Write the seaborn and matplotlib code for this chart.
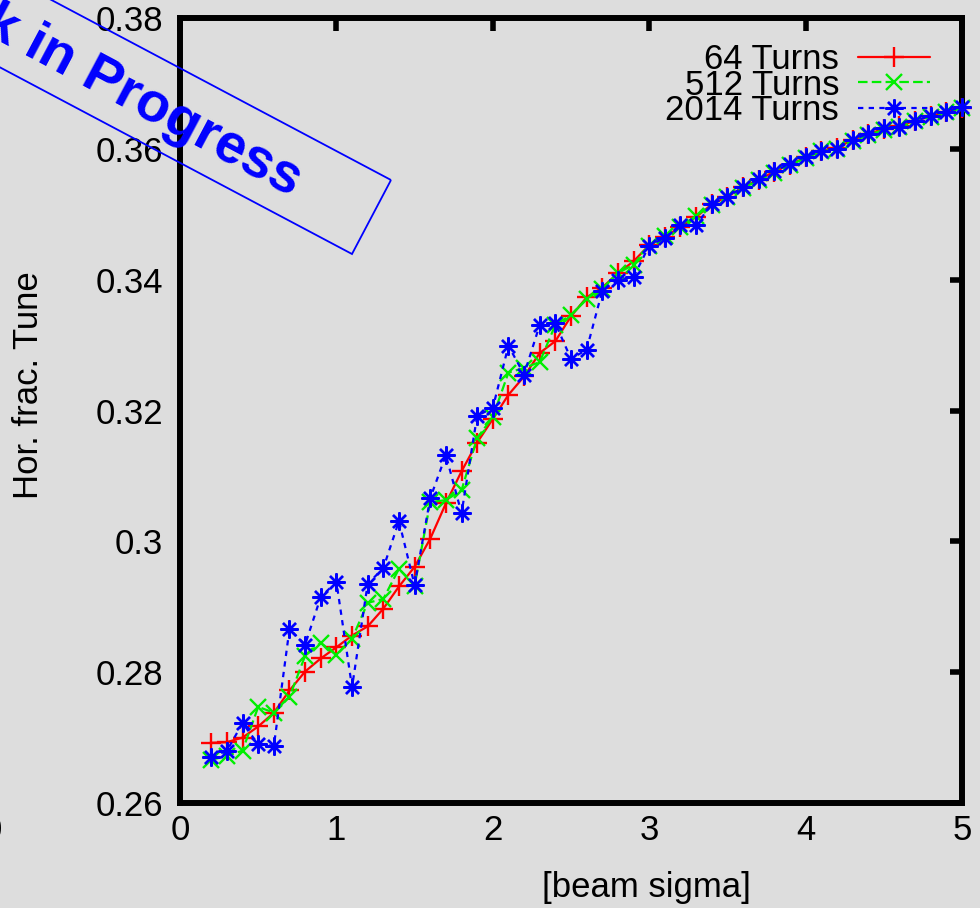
import matplotlib
matplotlib.use("Agg")
import matplotlib.pyplot as plt
import seaborn as sns
import pandas as pd
from matplotlib.patches import Polygon

# ---------------- data ----------------
beam_sigma = [0.2, 0.3, 0.4, 0.5, 0.6, 0.7, 0.8, 0.9, 1.0, 1.1,
              1.2, 1.3, 1.4, 1.5, 1.6, 1.7, 1.8, 1.9, 2.0, 2.1,
              2.2, 2.3, 2.4, 2.5, 2.6, 2.7, 2.8, 2.9, 3.0, 3.1,
              3.2, 3.3, 3.4, 3.5, 3.6, 3.7, 3.8, 3.9, 4.0, 4.1,
              4.2, 4.3, 4.4, 4.5, 4.6, 4.7, 4.8, 4.9, 5.0]

tune_64 = [0.2692, 0.2693, 0.2700, 0.2717, 0.2738, 0.2772, 0.2801, 0.2821, 0.2838, 0.2856,
           0.2870, 0.2897, 0.2931, 0.2961, 0.3004, 0.3058, 0.3107, 0.3151, 0.3187, 0.3224,
           0.3252, 0.3288, 0.3306, 0.3344, 0.3373, 0.3388, 0.3410, 0.3428, 0.3453, 0.3465,
           0.3481, 0.3496, 0.3515, 0.3527, 0.3541, 0.3553, 0.3565, 0.3576, 0.3587, 0.3597,
           0.3601, 0.3614, 0.3622, 0.3631, 0.3635, 0.3643, 0.3650, 0.3657, 0.3663]

tune_512 = [0.2666, 0.2672, 0.2680, 0.2747, 0.2738, 0.2762, 0.2825, 0.2845, 0.2826, 0.2851,
            0.2906, 0.2912, 0.2958, 0.2932, 0.3060, 0.3063, 0.3078, 0.3158, 0.3190, 0.3258,
            0.3265, 0.3274, 0.3331, 0.3346, 0.3371, 0.3386, 0.3410, 0.3423, 0.3452, 0.3467,
            0.3480, 0.3498, 0.3514, 0.3526, 0.3540, 0.3552, 0.3563, 0.3575, 0.3586, 0.3596,
            0.3600, 0.3612, 0.3621, 0.3629, 0.3633, 0.3642, 0.3649, 0.3656, 0.3662]

tune_2014 = [0.2670, 0.2680, 0.2722, 0.2690, 0.2687, 0.2866, 0.2842, 0.2915, 0.2938, 0.2777,
             0.2935, 0.2959, 0.3031, 0.2933, 0.3066, 0.3132, 0.3043, 0.3192, 0.3204, 0.3299,
             0.3255, 0.3331, 0.3333, 0.3279, 0.3293, 0.3383, 0.3400, 0.3404, 0.3452, 0.3464,
             0.3484, 0.3484, 0.3515, 0.3527, 0.3541, 0.3554, 0.3566, 0.3577, 0.3588, 0.3597,
             0.3599, 0.3614, 0.3623, 0.3632, 0.3634, 0.3643, 0.3650, 0.3657, 0.3664]

series_names = ["64 Turns", "512 Turns", "2014 Turns"]
x_ticks = [0, 1, 2, 3, 4, 5]
x_tick_labels = ["0", "1", "2", "3", "4", "5"]
y_ticks = [0.26, 0.28, 0.30, 0.32, 0.34, 0.36, 0.38]
y_tick_labels = ["0.26", "0.28", "0.3", "0.32", "0.34", "0.36", "0.38"]

# ---------------- style ----------------
sns.set_theme(style="white")
plt.rcParams["font.family"] = ["Liberation Sans", "DejaVu Sans"]
plt.rcParams["text.color"] = "black"
BG = "#dddddd"
FS = 25

fig = plt.figure(figsize=(9.8, 9.08), dpi=100, facecolor=BG)
W, H = 980.0, 908.0
ax = fig.add_axes([180 / W, 1 - 803 / H, (962 - 180) / W, (803 - 18) / H])
ax.set_facecolor(BG)

styles = {
    "64 Turns": dict(color="#ff0000", marker="+", ms=15, ls="-"),
    "512 Turns": dict(color="#00ee00", marker="x", ms=11.5, ls=(0, (4.3, 1.9))),
    "2014 Turns": dict(color="#0000ff", marker=(8, 2, 0), ms=13, ls=(0, (2.4, 2.4))),
}
series_vals = {"64 Turns": tune_64, "512 Turns": tune_512, "2014 Turns": tune_2014}

for name in series_names:
    df = pd.DataFrame({"sigma": beam_sigma, "tune": series_vals[name]})
    st = styles[name]
    sns.lineplot(data=df, x="sigma", y="tune", ax=ax, estimator=None, sort=False,
                 color=st["color"], marker=st["marker"], markersize=st["ms"],
                 markeredgecolor=st["color"], markeredgewidth=1.7,
                 linestyle=st["ls"], linewidth=1.6, label=name, clip_on=False, zorder=3)

ax.set_xlim(0, 5)
ax.set_ylim(0.26, 0.38)
ax.set_xticks(x_ticks)
ax.set_xticklabels(x_tick_labels)
ax.set_yticks(y_ticks)
ax.set_yticklabels(y_tick_labels)
ax.set_xlabel("")
ax.set_ylabel("")
ax.tick_params(direction="in", length=9, width=4, top=True, right=True,
               labelsize=FS, colors="black", labelcolor="black")
ax.tick_params(axis="y", pad=12)
ax.tick_params(axis="x", pad=8)
for sp in ax.spines.values():
    sp.set_visible(True)
    sp.set_linewidth(4.3)
    sp.set_color("black")
    sp.set_zorder(2.5)

# legend
handles, labels = ax.get_legend_handles_labels()
leg = ax.legend(handles, labels, loc="center right",
                bbox_to_anchor=(930 / W, 1 - 85 / H), bbox_transform=fig.transFigure,
                frameon=False, markerfirst=False, numpoints=1, fontsize=FS,
                handlelength=2.07, handletextpad=0.55, labelspacing=-0.21,
                borderpad=0, borderaxespad=0, labelcolor="black")
leg.set_zorder(5)

# axis labels (placed as in the reference)
fig.text(28 / W, 1 - 385 / H, "Hor. frac. Tune", rotation=90, ha="center", va="center",
         fontsize=FS, color="black")
fig.text(646 / W, 1 - 888 / H, "[beam sigma]", ha="center", va="center",
         fontsize=FS, color="black")
# clipped tick label from a neighbouring panel at the far left
fig.text(-8 / W, 1 - 830 / H, "0", ha="center", va="center", fontsize=FS, color="black")

# "Work in Progress" stamp
corners_px = [(391, 180), (352, 254), (-178, -27), (-139, -101)]
poly = Polygon([(x / W, 1 - y / H) for x, y in corners_px], closed=True, fill=False,
               edgecolor="#0000ff", linewidth=1.3, transform=fig.transFigure, zorder=10)
fig.add_artist(poly)
fig.text(298 / W, 1 - 184 / H, "Work in Progress", rotation=-28, rotation_mode="anchor",
         ha="right", va="center", fontsize=40, fontweight="bold", color="#0000ff", zorder=10)

fig.savefig("out.png", dpi=100, facecolor=BG)
